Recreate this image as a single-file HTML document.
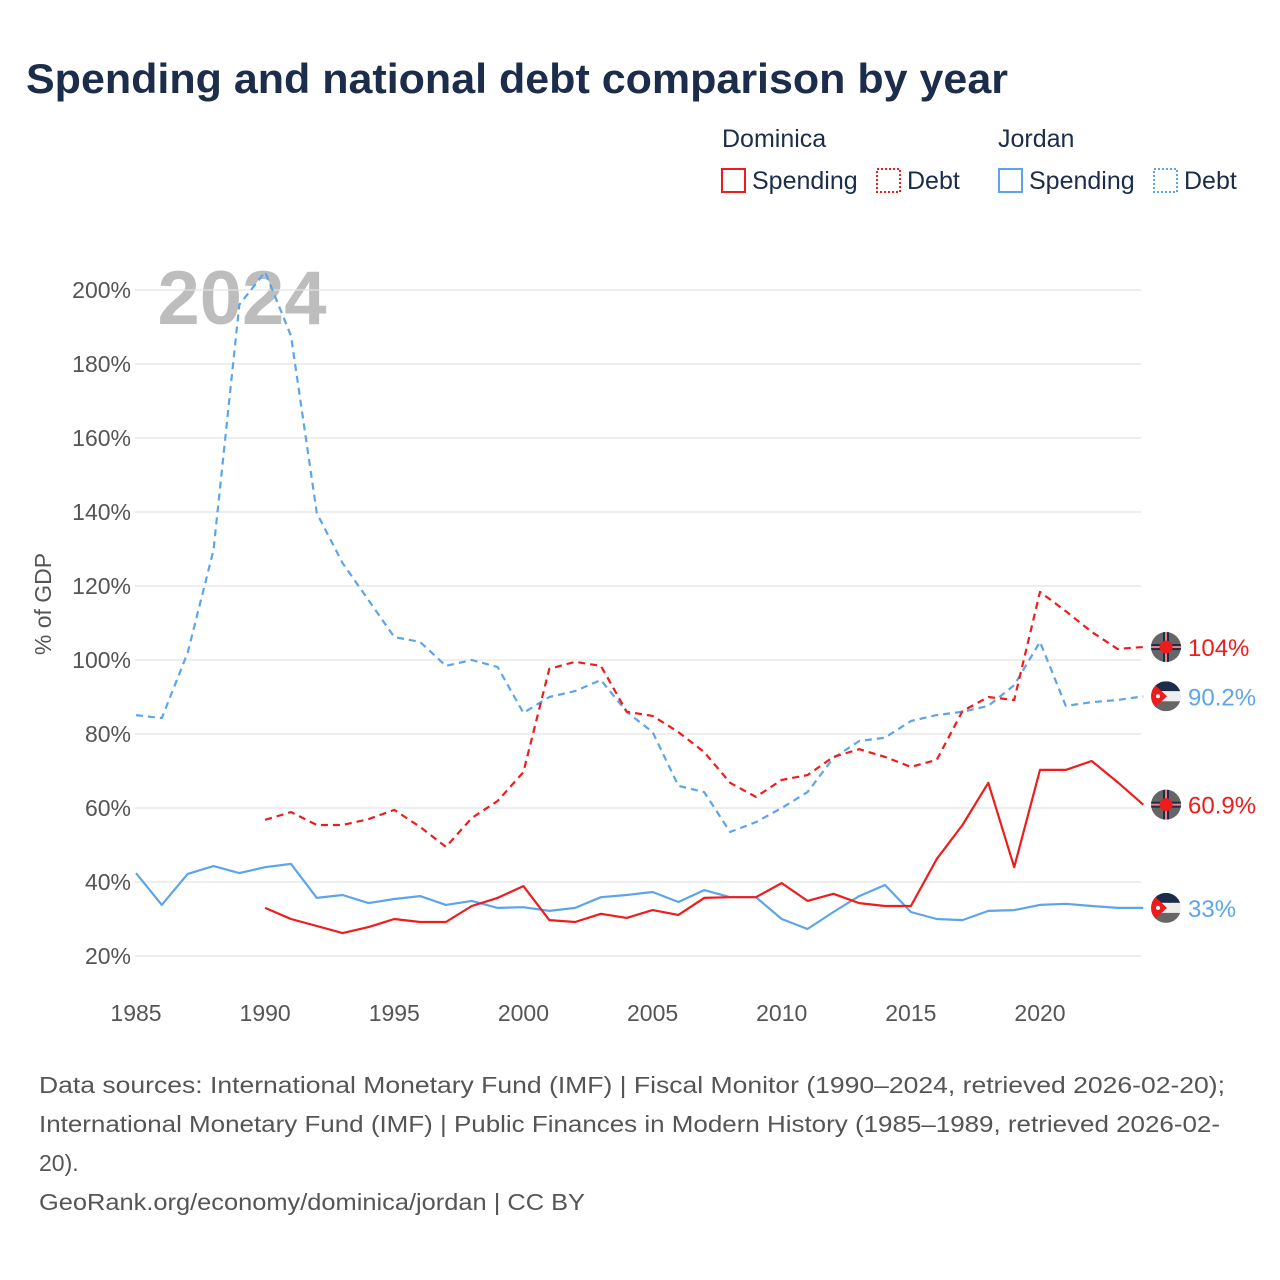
<!DOCTYPE html>
<html><head><meta charset="utf-8"><style>
body{margin:0;background:#fff;}
svg{display:block;font-family:"Liberation Sans",sans-serif;}
</style></head><body>
<svg id="chart" width="1280" height="1280" viewBox="0 0 1280 1280">
<text x="26" y="93" font-size="42" font-weight="bold" fill="#1b2d4b" textLength="982" lengthAdjust="spacingAndGlyphs">Spending and national debt comparison by year</text>
<g font-size="25" fill="#1b2d4b">
<text x="722" y="147">Dominica</text>
<text x="998" y="147">Jordan</text>
<g><rect x="722" y="169" width="23" height="23" fill="none" stroke="#ee1c1c" stroke-width="2"/><text x="752" y="189">Spending</text></g>
<g><rect x="877" y="169" width="23" height="23" fill="none" stroke="#ee1c1c" stroke-width="2" stroke-dasharray="2,2"/><text x="907" y="189">Debt</text></g>
<g><rect x="999" y="169" width="23" height="23" fill="none" stroke="#5da5ea" stroke-width="2"/><text x="1029" y="189">Spending</text></g>
<g><rect x="1154" y="169" width="23" height="23" fill="none" stroke="#5da5ea" stroke-width="2" stroke-dasharray="2,2"/><text x="1184" y="189">Debt</text></g>
</g>
<text x="242" y="324" font-size="76" font-weight="bold" fill="#bdbdbd" text-anchor="middle">2024</text>
<g id="grid"></g>
<g id="series"></g>
<g id="ends"></g>
<text transform="translate(51,604) rotate(-90)" font-size="23" fill="#555" text-anchor="middle">% of GDP</text>
<g font-size="23" fill="#555">
<text x="39" y="1093" textLength="1186" lengthAdjust="spacingAndGlyphs">Data sources: International Monetary Fund (IMF) | Fiscal Monitor (1990–2024, retrieved 2026-02-20);</text>
<text x="39" y="1132" textLength="1181" lengthAdjust="spacingAndGlyphs">International Monetary Fund (IMF) | Public Finances in Modern History (1985–1989, retrieved 2026-02-</text>
<text x="39" y="1171">20).</text>
<text x="39" y="1210" textLength="546" lengthAdjust="spacingAndGlyphs">GeoRank.org/economy/dominica/jordan | CC BY</text>
</g>
</svg>
<script>
const jorYears = [1985,1986,1987,1988,1989,1990,1991,1992,1993,1994,1995,1996,1997,1998,1999,2000,2001,2002,2003,2004,2005,2006,2007,2008,2009,2010,2011,2012,2013,2014,2015,2016,2017,2018,2019,2020,2021,2022,2023,2024];
const jorDebt = [85.1,84.3,102,129.7,196,204.9,187.6,139.7,126.2,116.2,106.2,104.9,98.4,100,98.1,85.7,90,91.6,94.6,86,80.5,66,64.3,53.5,56.2,60,64.3,73.5,78.1,79,83.5,85.1,86,87.6,93.2,104.9,87.6,88.6,89.2,90.2];
const jorSpending = [42.4,33.8,42.2,44.3,42.4,44,44.9,35.7,36.5,34.3,35.4,36.2,33.8,34.9,33,33.2,32.2,33,35.9,36.5,37.3,34.6,37.8,35.9,35.9,30,27.3,31.9,36.2,39.2,31.9,30,29.7,32.2,32.4,33.8,34.1,33.5,33,33];
const domYears = [1990,1991,1992,1993,1994,1995,1996,1997,1998,1999,2000,2001,2002,2003,2004,2005,2006,2007,2008,2009,2010,2011,2012,2013,2014,2015,2016,2017,2018,2019,2020,2021,2022,2023,2024];
const domDebt = [56.8,58.9,55.4,55.4,57,59.5,54.9,49.5,57.3,61.9,69.7,97.6,99.5,98.4,86,84.9,80.5,75.1,66.8,63,67.6,68.9,73.8,75.9,73.8,71.1,73,86.2,90,89.2,118.4,113.2,107.6,103,103.5];
const domSpending = [33,30,28.1,26.2,27.8,30,29.2,29.2,33.5,35.7,38.9,29.7,29.2,31.4,30.3,32.4,31.1,35.7,35.9,35.9,39.7,34.9,36.8,34.3,33.5,33.5,46.2,55.4,66.8,44,70.3,70.3,72.7,67,60.9];
const yTicks = [20,40,60,80,100,120,140,160,180,200];
const xTicks = [1985,1990,1995,2000,2005,2010,2015,2020];
const endLabels = ["104%","90.2%","60.9%","33%"];

const NS="http://www.w3.org/2000/svg";
const xS = y => 136 + (y-1985)*(904/35);
const yS = v => 956 - (v-20)*3.7;
function mk(tag, attrs, parent){const e=document.createElementNS(NS,tag);for(const k in attrs)e.setAttribute(k,attrs[k]);parent.appendChild(e);return e;}
const grid=document.getElementById('grid');
yTicks.forEach(t=>{
  const l=mk('line',{x1:135,x2:1141,y1:yS(t),y2:yS(t),stroke:'#e3e3e3','stroke-width':1.3},grid);
  
  
  const tx=mk('text',{x:131,y:yS(t)+8,'text-anchor':'end','font-size':23,fill:'#555'},grid);
  tx.textContent=t+'%';
  
  
});
xTicks.forEach(t=>{
  const tx=mk('text',{x:xS(t),y:1021,'text-anchor':'middle','font-size':23,fill:'#555'},grid);
  tx.textContent=t;
  
  
});
const ser=document.getElementById('series');
function line(years, vals, color, dash, name){
  const d=years.map((y,i)=>(i?'L':'M')+xS(y).toFixed(1)+','+yS(vals[i]).toFixed(1)).join('');
  const p=mk('path',{d:d,fill:'none',stroke:color,'stroke-width':2.2,'stroke-dasharray':dash,'stroke-linejoin':'round'},ser);
  
  
}
const RED='#ee1c1c', BLUE='#5da5ea';
line(jorYears,jorDebt,BLUE,'7,5','line-jordan-debt');
line(jorYears,jorSpending,BLUE,'','line-jordan-spending');
line(domYears,domDebt,RED,'7,5','line-dominica-debt');
line(domYears,domSpending,RED,'','line-dominica-spending');
const ends=document.getElementById('ends');
const fx=1166;
function flag(cy, country){
  const g=mk('g',{},ends);
  
  
  const id='c'+Math.round(cy);
  const cp=mk('clipPath',{id:id},g); mk('circle',{cx:fx,cy:cy,r:15},cp);
  const inner=mk('g',{'clip-path':'url(#'+id+')'},g);
  if(country==='dominica'){
    mk('rect',{x:fx-15,y:cy-15,width:30,height:30,fill:'#666'},inner);
    mk('rect',{x:fx-3,y:cy-15,width:6,height:30,fill:'#1b2d4b'},inner);
    mk('rect',{x:fx-15,y:cy-3,width:30,height:6,fill:'#1b2d4b'},inner);
    mk('rect',{x:fx-1,y:cy-15,width:2,height:30,fill:'#f08080'},inner);
    mk('rect',{x:fx-15,y:cy-1,width:30,height:2,fill:'#f08080'},inner);
    mk('circle',{cx:fx,cy:cy,r:6.5,fill:RED},inner);
  } else {
    mk('rect',{x:fx-15,y:cy-15,width:30,height:10,fill:'#1b2d4b'},inner);
    mk('rect',{x:fx-15,y:cy-5,width:30,height:10,fill:'#eee'},inner);
    mk('rect',{x:fx-15,y:cy+5,width:30,height:10,fill:'#666'},inner);
    mk('path',{d:`M${fx-15},${cy-15}L${fx+1},${cy}L${fx-15},${cy+15}Z`,fill:RED},inner);
    mk('circle',{cx:fx-8,cy:cy,r:2,fill:'#fff'},inner);
  }
}
const endVals=[domDebt[domDebt.length-1],jorDebt[jorDebt.length-1],domSpending[domSpending.length-1],jorSpending[jorSpending.length-1]];
const endCountries=['dominica','jordan','dominica','jordan'];
const endColors=[RED,BLUE,RED,BLUE];
endVals.forEach((v,i)=>{
  const cy=yS(v);
  flag(cy,endCountries[i]);
  const t=mk('text',{x:1188,y:cy+9,'font-size':24,fill:endColors[i]},ends);
  t.textContent=endLabels[i];
  
  
});
</script>
</body></html>
